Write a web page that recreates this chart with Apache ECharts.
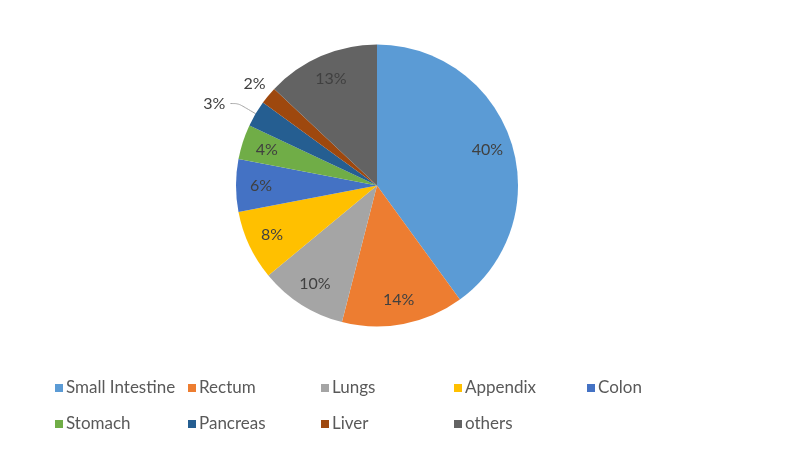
<!DOCTYPE html>
<html>
<head>
<meta charset="utf-8">
<script src="https://cdn.jsdelivr.net/npm/echarts@6/dist/echarts.min.js"></script>
<style>
  html, body { margin: 0; padding: 0; background: #ffffff; }
  #chart { width: 800px; height: 463px; }
</style>
</head>
<body>
<div id="chart"></div>
<script>
// Tumour location share (%)
const categories = ['Small Intestine', 'Rectum', 'Lungs', 'Appendix', 'Colon', 'Stomach', 'Pancreas', 'Liver', 'others'];
const shares = [40, 14, 10, 8, 6, 4, 3, 2, 13];
const palette = ['#5B9BD5', '#ED7D31', '#A5A5A5', '#FFC000', '#4472C4', '#70AD47', '#255E91', '#9E480E', '#636363'];

// Thin slices get their label outside the pie
const outsideLabelled = ['Pancreas', 'Liver'];

const FONT = 'Lato, "Liberation Sans", sans-serif';
const center = [377, 185.5];
const R = 141;

const pieData = categories.map((name, i) => {
  const item = { name: name, value: shares[i], itemStyle: { color: palette[i] } };
  if (name === 'Pancreas') {
    item.label = { show: true, position: 'outside' };
    item.labelLine = { show: true, length: 20, length2: 8 };
  } else if (name === 'Liver') {
    item.label = { show: true, position: 'outside', distanceToLabelLine: -11 };
    item.labelLine = { show: false, length: 18, length2: 0 };
  }
  return item;
});

// Same slices again, invisible and larger, so the inside labels sit near the rim
const labelData = categories.map((name, i) => ({
  name: name,
  value: shares[i],
  label: { show: !outsideLabelled.includes(name) }
}));

const chart = echarts.init(document.getElementById('chart'), null, { renderer: 'canvas' });
chart.setOption({
  animation: false,
  backgroundColor: '#ffffff',
  textStyle: { fontFamily: FONT },
  legend: {
    data: categories,
    left: 55,
    top: 370,
    width: 690,
    padding: 0,
    itemGap: 0,
    itemWidth: 8,
    itemHeight: 8,
    itemStyle: { borderWidth: 0 },
    icon: 'rect',
    textStyle: {
      fontFamily: FONT,
      fontSize: 17,
      color: '#595959',
      width: 122,
      lineHeight: 36,
      padding: [0, 0, 0, -2]
    }
  },
  series: [
    {
      type: 'pie',
      center: center,
      radius: [0, R],
      startAngle: 90,
      clockwise: true,
      avoidLabelOverlap: false,
      data: pieData,
      itemStyle: { borderWidth: 0 },
      label: {
        show: false,
        formatter: '{c}%',
        fontFamily: FONT,
        fontSize: 16,
        color: '#404040'
      },
      labelLine: { lineStyle: { color: '#A6A6A6', width: 1 }, smooth: 0.3 },
      emphasis: { disabled: true }
    },
    {
      type: 'pie',
      center: center,
      radius: [0, 226],
      startAngle: 90,
      clockwise: true,
      silent: true,
      legendHoverLink: false,
      avoidLabelOverlap: false,
      data: labelData,
      itemStyle: { color: 'transparent', borderWidth: 0 },
      label: {
        position: 'inside',
        formatter: '{c}%',
        fontFamily: FONT,
        fontSize: 16,
        color: '#404040'
      },
      labelLine: { show: false },
      emphasis: { disabled: true }
    }
  ]
});
</script>
</body>
</html>
